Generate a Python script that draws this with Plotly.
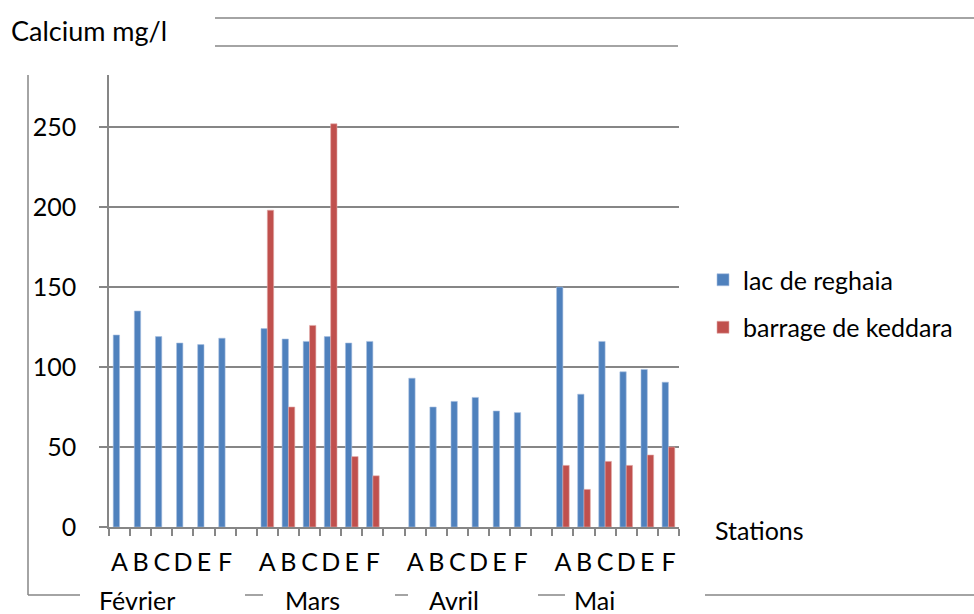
import plotly.graph_objects as go

months = ["Février", "Mars", "Avril", "Mai"]
stations = ["A", "B", "C", "D", "E", "F"]

lac_reghaia = {
    "Février": [120, 135, 119, 115, 114, 118],
    "Mars":    [124, 117.5, 116, 119, 115, 116],
    "Avril":   [93, 75, 78.5, 81, 72.5, 71.5],
    "Mai":     [150, 83, 116, 97, 98.5, 90.5],
}
barrage_keddara = {
    "Février": [None, None, None, None, None, None],
    "Mars":    [198, 75, 126, 252, 44, 32],
    "Avril":   [None, None, None, None, None, None],
    "Mai":     [38.5, 23.5, 41, 38.5, 45, 50],
}
y_ticks = [0, 50, 100, 150, 200, 250]

FONT = "Lato"
FS = 25

# category positions: 6 stations per month, one blank slot between months
xs, lab, v1, v2 = [], [], [], []
pos = 0
for i, m in enumerate(months):
    for j, s in enumerate(stations):
        xs.append(pos)
        lab.append(s)
        v1.append(lac_reghaia[m][j])
        v2.append(barrage_keddara[m][j])
        pos += 1
    if i < len(months) - 1:
        pos += 1
n_cat = pos

fig = go.Figure()
fig.add_trace(go.Bar(x=xs, y=v1, name="lac de reghaia",
                     marker=dict(color="#4f81bd", line=dict(color="#a7c0e0", width=0.6)),
                     legendgroup="a"))
fig.add_trace(go.Bar(x=xs, y=v2, name="barrage de keddara",
                     marker=dict(color="#c0504d", line=dict(color="#e0aaa8", width=0.6)),
                     legendgroup="b"))

L, R, T, B = 109, 295, 75, 87
W, H = 974, 614
pw, ph = W - L - R, H - T - B

def px2x(px):
    return (px - L) / pw

def py2y(py):
    return (H - B - py) / ph

grey = "#868686"
shapes = []
# stray outline lines around the chart (as in the reference)
for (x0, y0, x1, y1) in [
    (215, 18, 974, 18), (215, 46, 678, 46),
    (28, 75, 28, 595), (28, 595, 80, 595),
    (245, 595, 263, 595), (395, 595, 408, 595),
    (538, 595, 565, 595), (705, 595, 974, 595),
]:
    shapes.append(dict(type="line", xref="paper", yref="paper",
                       x0=px2x(x0), y0=py2y(y0), x1=px2x(x1), y1=py2y(y1),
                       line=dict(color=grey, width=1.5)))

month_x = [0.84, 9.15, 15.86, 22.5]
annotations = [
    dict(text="Calcium mg/l", xref="paper", yref="paper", x=px2x(9), y=py2y(30),
         xanchor="left", yanchor="middle", showarrow=False,
         font=dict(family=FONT, size=FS + 2, color="black")),
    dict(text="Stations", xref="paper", yref="paper", x=px2x(713), y=py2y(530),
         xanchor="left", yanchor="middle", showarrow=False,
         font=dict(family=FONT, size=FS, color="black")),
]
for m, mx in zip(months, month_x):
    annotations.append(dict(text=m, xref="x", yref="paper", x=mx, y=py2y(600),
                            xanchor="center", yanchor="middle", showarrow=False,
                            borderpad=0,
                            font=dict(family=FONT, size=FS, color="black")))

fig.update_layout(
    width=W, height=H,
    margin=dict(l=L, r=R, t=T, b=B, pad=0),
    paper_bgcolor="white", plot_bgcolor="white",
    barmode="group", bargap=0.4, bargroupgap=0,
    font=dict(family=FONT, size=FS, color="black"),
    showlegend=True,
    legend=dict(x=px2x(703), y=py2y(257), xanchor="left", yanchor="top",
                font=dict(family=FONT, size=FS, color="black"),
                traceorder="grouped", tracegroupgap=12,
                bgcolor="rgba(0,0,0,0)", itemwidth=30),
    xaxis=dict(range=[-0.5, n_cat - 0.5], tickmode="array", tickvals=xs, ticktext=lab,
               ticks="", showgrid=False, showline=True, linecolor=grey, linewidth=1.5,
               zeroline=False, tickfont=dict(family=FONT, size=FS),
               ticklabelstandoff=12,
               minor=dict(tickmode="linear", tick0=-0.5, dtick=1, ticks="outside",
                          ticklen=7, tickcolor=grey, tickwidth=1.5, showgrid=False)),
    yaxis=dict(range=[0, 282.5], tickmode="array", tickvals=y_ticks,
               ticks="outside", ticklen=8, tickcolor=grey, tickwidth=1.5,
               showgrid=True, gridcolor=grey, gridwidth=1.5,
               showline=True, linecolor=grey, linewidth=1.5, zeroline=False,
               tickfont=dict(family=FONT, size=FS), ticklabelstandoff=18),
    shapes=shapes, annotations=annotations,
)

fig.write_html("out.html", config={"displayModeBar": False},
               post_script="document.body.style.margin='0';document.body.style.overflow='hidden';")
